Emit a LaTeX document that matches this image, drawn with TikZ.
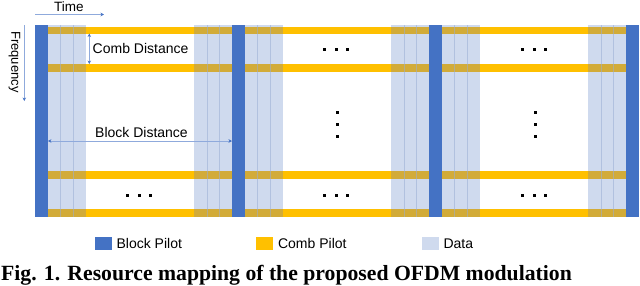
\documentclass[tikz,border=0pt]{standalone}
\usepackage{fontspec}
\setmainfont{Liberation Sans}
\newfontfamily\capfont{Liberation Serif}
\usetikzlibrary{arrows.meta,positioning}

\definecolor{blockblue}{HTML}{4472C4}
\definecolor{combgold}{HTML}{FFC000}
\definecolor{datablue}{HTML}{CFDAEE}
\definecolor{gridline}{HTML}{9AAED3}
\definecolor{overlap}{HTML}{D2AB38}
\definecolor{arrowline}{HTML}{8FAADC}

\begin{document}
\begin{tikzpicture}[
      x = 1pt, y = -1pt,
      font = \fontsize{14}{16}\selectfont,
      blk/.style = {fill = blockblue, inner sep = 0pt, anchor = north west,
        minimum width = 12.5pt, minimum height = 192pt},
      comb/.style = {fill = combgold},
      dat/.style = {fill = datablue},
      gold/.style = {fill = overlap},
      sep/.style = {draw = gridline, line width = .7pt, opacity = .55},
      dim/.style = {draw = arrowline, line width = .6pt,
        >={Stealth[length=3.5pt, width=3.5pt, color=blockblue]}, <->},
      dir/.style = {draw = arrowline, line width = .6pt,
        >={Stealth[length=3.5pt, width=3.5pt, color=blockblue]}, ->},
      lbl/.style = {inner sep = 0pt, anchor = base west},
      key/.style = {inner sep = 0pt, minimum width = 16.5pt, minimum height = 13pt},
      dot/.style = {fill = black},
    ]
    \useasboundingbox (0,0) rectangle (640,285);

    % data columns next to the block pilots
    \foreach \i in {0,1,2} {
      \pgfmathsetmacro\bx{35+197*\i}
      \fill[dat] (\bx+12,25) rectangle (\bx+51,217);
      \fill[dat] (\bx+159,25) rectangle (\bx+197,217);
    }
    % comb pilot rows
    \foreach \ya/\yb in {26.5/33.5, 64/72, 171/179, 209/217} {
      \fill[comb] (47,\ya) rectangle (626,\yb);
      \foreach \i in {0,1,2} {
        \pgfmathsetmacro\bx{35+197*\i}
        \fill[gold] (\bx+12,\ya) rectangle (\bx+51,\yb);
        \fill[gold] (\bx+159,\ya) rectangle (\bx+197,\yb);
      }
    }
    \foreach \i in {0,1,2} {
      \pgfmathsetmacro\bx{35+197*\i}
      \foreach \dx in {25,38,172,184}
        \draw[sep] (\bx+\dx,25) -- (\bx+\dx,217);
    }
    % block pilots
    \foreach \i in {0,...,3}
      \node[blk] (blk\i) at (35+197*\i,25) {};

    % dots
    \foreach \cx/\cy in {336/49, 534/49, 139/195, 336/195, 534/195}
      \foreach \d in {-11.5,0,11.5}
        \fill[dot] (\cx+\d-1.5,\cy-1.5) rectangle (\cx+\d+1.5,\cy+1.5);
    \foreach \cx in {337,535}
      \foreach \d in {-12,0,12}
        \fill[dot] (\cx-1.5,124+\d-1.5) rectangle (\cx+1.5,124+\d+1.5);

    % axes
    \node[lbl, font=\fontsize{13.5}{15}\selectfont] (time) at (54,11) {Time};
    \coordinate (t0) at (35,14.5);
    \coordinate (t1) at (104,14.5);
    \draw[dir] (t0) -- (t1);
    \node[lbl, rotate=-90, font=\fontsize{13}{15}\selectfont] (freq) at (11.5,31) {Frequency};
    \coordinate (f0) at (24.3,25);
    \coordinate (f1) at (24.3,101);
    \draw[dir] (f0) -- (f1);

    % distances
    \node[lbl] (combd) at (92.5,53.5) {Comb Distance};
    \coordinate (c0) at (89.3,33.5);
    \coordinate (c1) at (89.3,64);
    \draw[dim] (c0) -- (c1);
    \node[lbl] (blockd) at (95,137.5) {Block Distance};
    \draw[dim] (blk0.east |- 0,141) -- (blk1.west |- 0,141);

    % legend
    \node[key, fill=blockblue, anchor=north west] (kblk) at (95,237) {};
    \node[inner sep=0pt, right=4.5pt of kblk] (kblktxt) {Block Pilot};
    \node[key, fill=combgold, anchor=north west] (kcomb) at (256,237) {};
    \node[inner sep=0pt, right=5pt of kcomb] (kcombtxt) {Comb Pilot};
    \node[key, fill=datablue, anchor=north west] (kdat) at (422,237) {};
    \node[inner sep=0pt, right=4.5pt of kdat] (kdattxt) {Data};

    \node[lbl, font=\capfont\bfseries\fontsize{21.7}{24}\selectfont] (cap) at (1,280)
      {Fig. 1. Resource mapping of the proposed OFDM modulation};
  \end{tikzpicture}
\end{document}
